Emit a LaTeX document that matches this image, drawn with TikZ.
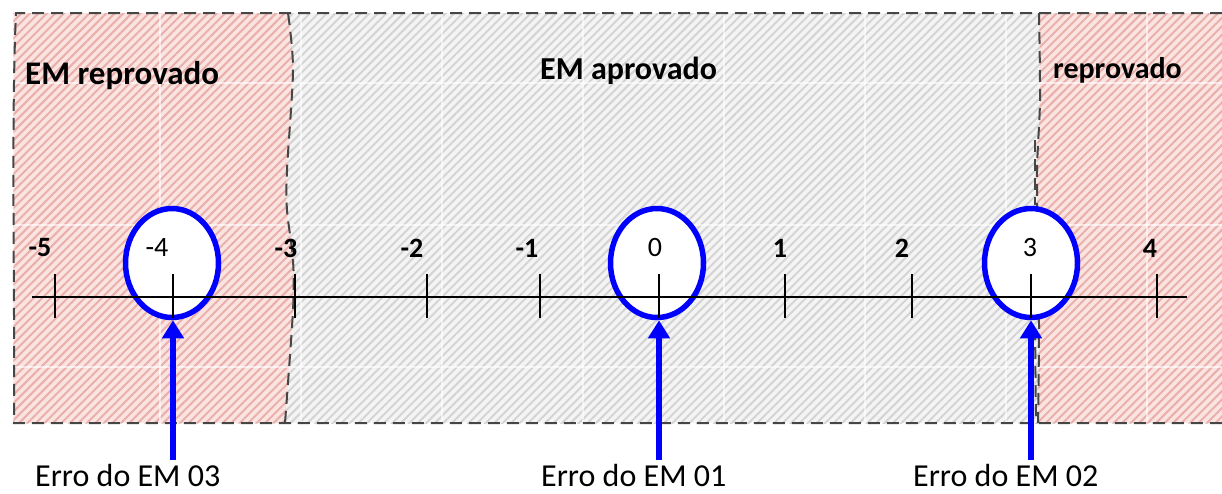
\documentclass[tikz,border=0pt]{standalone}
\usepackage{fontspec}
\setmainfont{Carlito}
\usetikzlibrary{shapes.geometric, patterns.meta, arrows.meta}

\definecolor{redbase}{RGB}{250,228,225}
\definecolor{redline}{RGB}{234,175,170}
\definecolor{graybase}{RGB}{244,244,244}
\definecolor{grayline}{RGB}{212,212,212}
\definecolor{borda}{RGB}{70,70,70}

\begin{document}
\begin{tikzpicture}[x=1pt, y=-1pt,
    zona/.style={dash pattern=on 12pt off 7pt, line width=2pt, borda},
    listrado/.style={postaction={pattern={Lines[angle=45, distance=6pt, line width=2pt]}, pattern color=#1}},
    marca/.style={ellipse, draw=blue, line width=5.5pt, fill=white, minimum width=93pt, minimum height=109pt, inner sep=0pt},
    numero/.style={font=\fontsize{28}{30}\selectfont\bfseries, inner sep=0pt},
    numeroc/.style={font=\fontsize{28}{30}\selectfont, inner sep=0pt},
    titulo/.style={anchor=base west, inner sep=0pt, font=\fontsize{#1}{#1}\selectfont\bfseries},
    rotulo/.style={anchor=base west, inner sep=0pt, font=\fontsize{32}{34}\selectfont},
    erro/.style={-{Triangle[width=21pt, length=18pt]}, line width=6pt, blue}]

    \useasboundingbox (0,0) rectangle (1222,493);

    % Regions
    \fill[graybase, listrado=grayline] (13,13) rectangle (1222,423);
    \fill[redbase, listrado=redline] (14,13) -- plot[smooth] coordinates {(288,13) (293,70) (287,170) (287,210) (293,260) (293,310) (285,423)} -- (14,423) -- cycle;
    \fill[redbase, listrado=redline] (1222,13) -- plot[smooth] coordinates {(1039,13) (1040,100) (1037,170) (1038,250) (1039,330) (1038,423)} -- (1222,423) -- cycle;

    % faint grid of the chart
    \foreach \gx in {160,301,...,1147}
        \draw[white, opacity=0.6, line width=1.5pt] (\gx,14) -- (\gx,422);
    \foreach \gy in {83,225,367}
        \draw[white, opacity=0.6, line width=1.5pt] (14,\gy) -- (1222,\gy);

    % Borders
    \draw[zona] (1222,13) -- (16,13) .. controls (11,120) and (15,300) .. (14,423) -- (1222,423);
    \draw[zona] plot[smooth] coordinates {(288,13) (293,70) (287,170) (287,210) (293,260) (293,310) (285,423)};
    \draw[zona] plot[smooth] coordinates {(1039,13) (1040,100) (1037,170) (1038,250) (1039,330) (1038,423)};
    \draw[zona] (1035,140) -- (1035,205);
    \draw[zona] (1035,328) -- (1036,423);

    \node[titulo=33] (emrep) at (25,84) {EM reprovado};
    \node[titulo=32] (emapr) at (540,79) {EM aprovado};
    \node[titulo=30] (rep) at (1053,78) {reprovado};

    % Marked errors
    \node[marca] (cm4) at (172,263) {};
    \node[marca] (c0) at (657,263) {};
    \node[marca] (c3) at (1031,263) {};

    % Number line
    \draw[line width=1.5pt] (32,297) -- (1187,297);
    \foreach \tx in {55,173,295,427,540,659,785,912,1031,1157}
        \draw[line width=1.5pt] (\tx,274) -- (\tx,318);
    \foreach \v/\lx [count=\i] in {-5/40, -3/286, -2/412, -1/527, 1/780, 2/902, 4/1150}
        \node[numero] (t\i) at (\lx,248) {\v};
    \node[numeroc] (tm4) at (157,248) {-4};
    \node[numeroc] (t0) at (655,248) {0};
    \node[numeroc] (t3) at (1030,248) {3};

    % Labels and arrows
    \node[rotulo] (e03) at (35,486) {Erro do EM 03};
    \node[rotulo] (e01) at (541,486) {Erro do EM 01};
    \node[rotulo] (e02) at (913,486) {Erro do EM 02};
    \coordinate (p03) at (173,460);
    \coordinate (p01) at (659,460);
    \coordinate (p02) at (1031,460);
    \draw[erro] (p03) -- (p03 |- cm4.south);
    \draw[erro] (p01) -- (p01 |- c0.south);
    \draw[erro] (p02) -- (p02 |- c3.south);
\end{tikzpicture}
\end{document}
